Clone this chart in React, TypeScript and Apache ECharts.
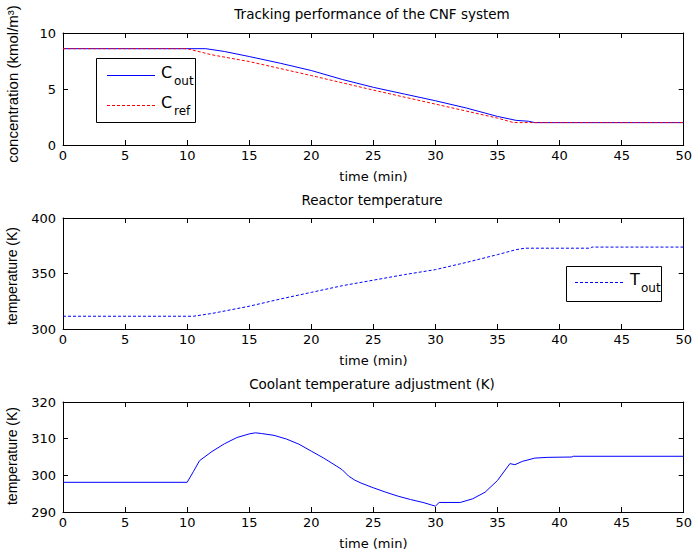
import React, { useEffect, useRef } from "react";
import * as echarts from "echarts";

// ---------- data ----------
const xTicks = [0, 5, 10, 15, 20, 25, 30, 35, 40, 45, 50];

// Plot 1: concentration
const tOut = [0, 11.5, 13, 15, 17.5, 20, 22.5, 25, 27.5, 30, 32.5, 35, 36.5, 37.5, 38, 50];
const cOut = [8.6, 8.6, 8.35, 7.9, 7.3, 6.65, 5.85, 5.15, 4.55, 3.95, 3.3, 2.55, 2.2, 2.12, 2.0, 2.0];
const tRef = [0, 10, 12, 15, 20, 25, 30, 35, 36.3, 50];
const cRef = [8.6, 8.6, 8.05, 7.45, 6.2, 4.9, 3.65, 2.4, 2.0, 2.0];

// Plot 2: reactor temperature
const tT = [0, 10.5, 12, 15, 17.5, 20, 22.5, 25, 27.5, 30, 32.5, 35, 36.5, 37.2, 42.5, 42.6, 50];
const tempOut = [311.5, 311.5, 314, 320.5, 327, 333, 339, 344, 349, 353.5, 360, 367, 371.5, 372.8, 372.8, 373.8, 373.8];

// Plot 3: coolant temperature
const tCool = [0, 10, 10.5, 11, 12, 13, 14, 15, 15.5, 16, 17, 18, 19, 20, 21, 22, 22.5, 23, 23.5, 24, 25, 26, 27, 28, 29, 29.7, 30, 30.3, 32, 33, 34, 35, 36, 36.4, 37, 38, 39, 41, 41.1, 50];
const coolTemp = [298.1, 298.1, 301, 304, 306.5, 308.6, 310.3, 311.3, 311.6, 311.4, 310.9, 309.9, 308.5, 306.6, 304.7, 302.6, 301.5, 299.8, 298.7, 297.9, 296.6, 295.4, 294.3, 293.4, 292.6, 291.9, 291.6, 292.6, 292.6, 293.6, 295.4, 298.6, 303.2, 302.9, 303.8, 304.7, 304.9, 305.0, 305.2, 305.2];

const titles = ["Tracking performance of the CNF system", "Reactor temperature", "Coolant temperature adjustment (K)"];
const yNames = ["concentration (kmol/m\u00B3)", "temperature (K)", "temperature (K)"];
const yRanges = [
  { min: 0, max: 10, interval: 5 },
  { min: 300, max: 400, interval: 50 },
  { min: 290, max: 320, interval: 10 },
];

const zip = (xs: number[], ys: number[]) => xs.map((x, i) => [x, ys[i]]);

const FONT = "DejaVu Sans";
const FONT2 = "Liberation Sans";

export default function App() {
  const ref = useRef<HTMLDivElement>(null);
  useEffect(() => {
    if (!ref.current) return;
    const chart = echarts.init(ref.current, null, { renderer: "svg" });
    const gridTops = [33, 218, 402];
    const gridHeights = [112, 111, 110];
    const grid = gridTops.map((t, i) => ({ left: 63, right: 7, top: t, height: gridHeights[i] }));
    const axisLine = { show: true, onZero: false, lineStyle: { color: "#000", width: 1 } };
    const axisTick = { show: true, inside: true, length: 5, lineStyle: { color: "#000" } };
    const xAxis: any[] = [];
    const yAxis: any[] = [];
    for (let i = 0; i < 3; i++) {
      xAxis.push({
        type: "value", gridIndex: i, position: "bottom", min: xTicks[0], max: xTicks[xTicks.length - 1], interval: 5,
        axisLine, axisTick, splitLine: { show: false },
        axisLabel: { color: "#000", fontSize: 13, fontFamily: FONT, margin: 4 },
        name: "time (min)", nameLocation: "middle", nameGap: 25,
        nameTextStyle: { color: "#000", fontSize: 13, fontFamily: FONT },
      });
      xAxis.push({
        type: "value", gridIndex: i, position: "top", min: 0, max: 50, interval: 5,
        axisLine, axisTick, splitLine: { show: false }, axisLabel: { show: false },
      });
      yAxis.push({
        type: "value", gridIndex: i, position: "left", ...yRanges[i],
        axisLine, axisTick, splitLine: { show: false },
        axisLabel: { color: "#000", fontSize: 13, fontFamily: FONT, margin: 7 },
      });
      yAxis.push({
        type: "value", gridIndex: i, position: "right", ...yRanges[i],
        axisLine, axisTick, splitLine: { show: false }, axisLabel: { show: false },
      });
    }
    const blue = "#0000ff";
    const red = "#ff0000";
    const series: any[] = [
      { type: "line", name: "Cout", xAxisIndex: 0, yAxisIndex: 0, data: zip(tOut, cOut), showSymbol: false, symbol: "none", lineStyle: { color: blue, width: 1 } },
      { type: "line", name: "Cref", xAxisIndex: 0, yAxisIndex: 0, data: zip(tRef, cRef), showSymbol: false, symbol: "none", lineStyle: { color: red, width: 1, type: [3, 2] } },
      { type: "line", name: "Tout", xAxisIndex: 2, yAxisIndex: 2, data: zip(tT, tempOut), showSymbol: false, symbol: "none", lineStyle: { color: blue, width: 1, type: [3, 2] } },
      { type: "line", name: "Tc", xAxisIndex: 4, yAxisIndex: 4, data: zip(tCool, coolTemp), showSymbol: false, symbol: "none", lineStyle: { color: blue, width: 1 } },
    ];
    const txt = (text: string, x: number, y: number, size: number, extra: any = {}) => ({
      type: "text", x, y, z: 101,
      style: { text, fill: "#000", fontSize: size, fontFamily: FONT, align: "center", verticalAlign: "middle", ...extra },
    });
    const vtxt = (text: string, x: number, y: number, size: number) => ({
      type: "text", x, y, rotation: Math.PI / 2, z: 101,
      style: { text, fill: "#000", fontSize: size, fontFamily: FONT2, align: "center", verticalAlign: "middle" },
    });
    const graphic: any[] = [
      txt(titles[0], 372, 14, 13.5),
      txt(titles[1], 372, 200, 13.5),
      txt(titles[2], 372, 384, 13.5),
      vtxt(yNames[0], 12, 84, 15),
      vtxt(yNames[1], 12, 276, 14),
      vtxt(yNames[2], 12, 456, 14),
      // legend 1
      { type: "rect", z: 100, shape: { x: 96.5, y: 58.5, width: 99, height: 64 }, style: { fill: "#fff", stroke: "#000", lineWidth: 1 } },
      { type: "line", z: 101, shape: { x1: 107, y1: 75.5, x2: 155, y2: 75.5 }, style: { stroke: blue, lineWidth: 1 } },
      { type: "line", z: 101, shape: { x1: 107, y1: 105.5, x2: 155, y2: 105.5 }, style: { stroke: red, lineWidth: 1, lineDash: [3, 2] } },
      txt("C", 161, 72, 16, { align: "left" }),
      txt("out", 174, 81, 12, { align: "left" }),
      txt("C", 161, 102, 16, { align: "left" }),
      txt("ref", 174, 111, 12, { align: "left" }),
      // legend 2
      { type: "rect", z: 100, shape: { x: 566.5, y: 266.5, width: 95, height: 35 }, style: { fill: "#fff", stroke: "#000", lineWidth: 1 } },
      { type: "line", z: 101, shape: { x1: 575, y1: 282.5, x2: 623, y2: 282.5 }, style: { stroke: blue, lineWidth: 1, lineDash: [3, 2] } },
      txt("T", 630, 279, 16, { align: "left" }),
      txt("out", 641, 288, 12, { align: "left" }),
    ];
    chart.setOption({
      animation: false,
      backgroundColor: "#fff",
      grid,
      xAxis,
      yAxis,
      series,
      graphic,
    });
    return () => chart.dispose();
  }, []);
  return <div ref={ref} style={{ position: "fixed", left: 0, top: 0, width: 695, height: 556 }} />;
}
